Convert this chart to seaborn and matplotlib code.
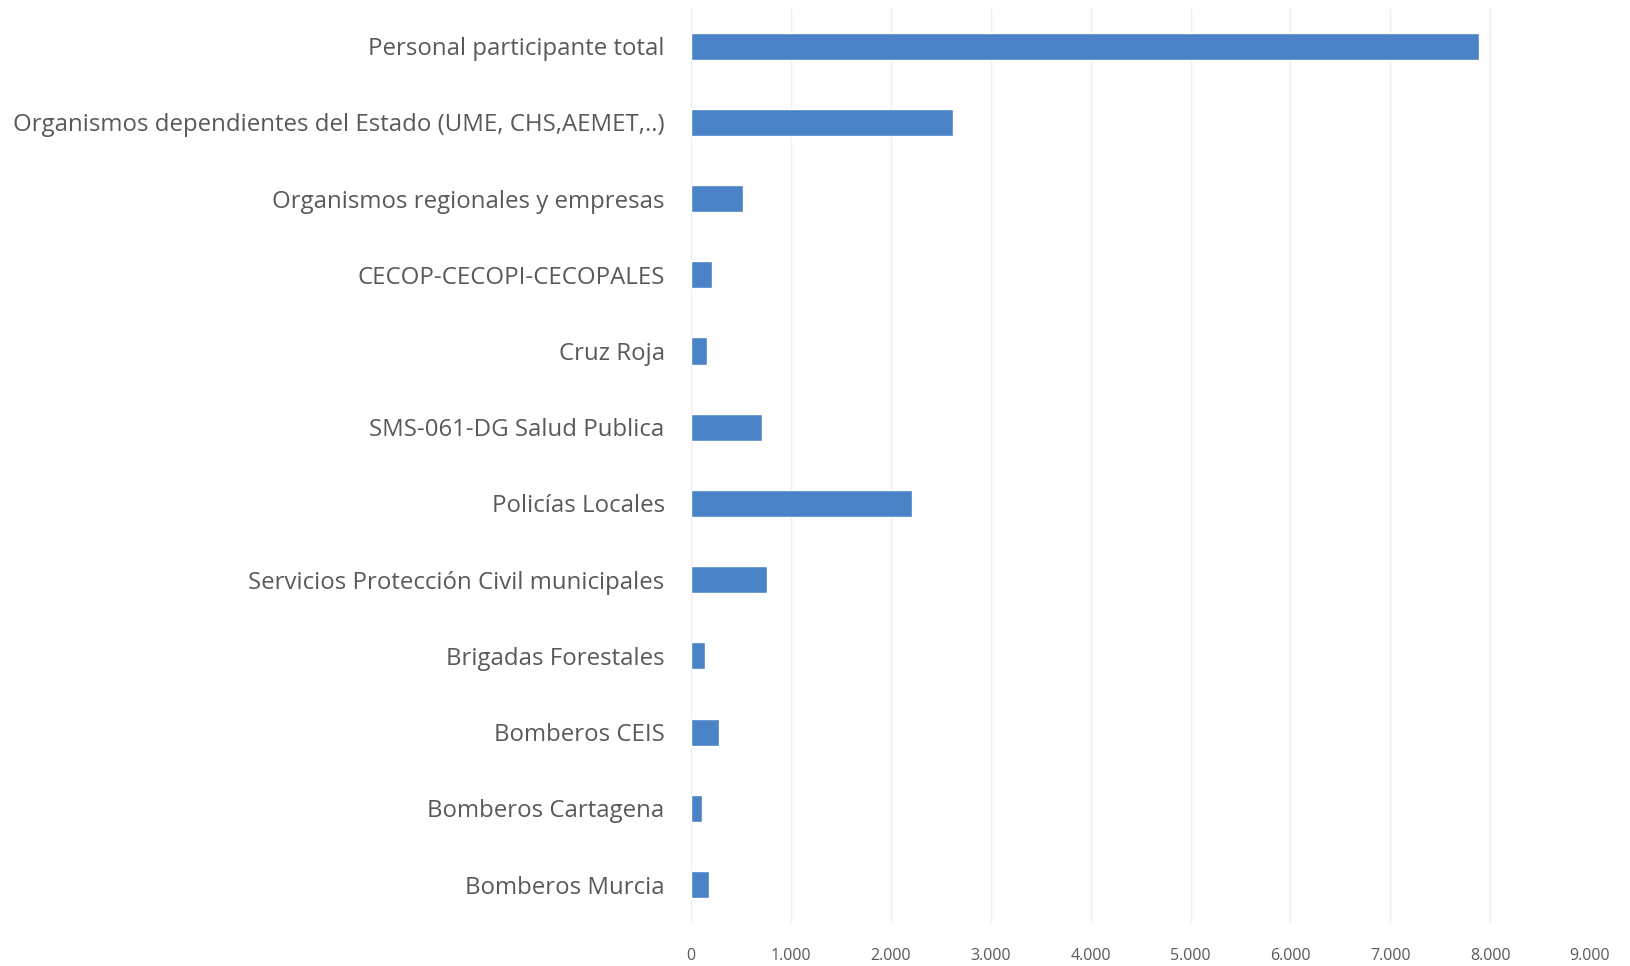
import matplotlib
matplotlib.use("Agg")
import matplotlib.pyplot as plt
import seaborn as sns
import pandas as pd
from matplotlib.ticker import FuncFormatter

categories = [
    "Personal participante total",
    "Organismos dependientes del Estado (UME, CHS,AEMET,..)",
    "Organismos regionales y empresas",
    "CECOP-CECOPI-CECOPALES",
    "Cruz Roja",
    "SMS-061-DG Salud Publica",
    "Policías Locales",
    "Servicios Protección Civil municipales",
    "Brigadas Forestales",
    "Bomberos CEIS",
    "Bomberos Cartagena",
    "Bomberos Murcia",
]
values = [7890, 2620, 523, 213, 160, 710, 2207, 763, 140, 280, 110, 177]
x_ticks = [0, 1000, 2000, 3000, 4000, 5000, 6000, 7000, 8000, 9000]

df = pd.DataFrame({"categoria": categories, "valor": values})

sns.set_theme(style="white")
plt.rcParams["font.family"] = ["Open Sans", "DejaVu Sans"]

fig = plt.figure(figsize=(16.31, 9.66), dpi=100)
ax = fig.add_axes([0.4237, 0.0449, 0.5512, 0.9468])

sns.barplot(data=df, x="valor", y="categoria", orient="h", color="#4a83c6",
            saturation=1, width=0.355, ax=ax)

ax.set_xlim(0, 9000)
ax.set_ylim(11.5, -0.5)
ax.set_xticks(x_ticks)
ax.xaxis.set_major_formatter(FuncFormatter(lambda v, p: f"{int(v):,}".replace(",", ".")))
ax.grid(axis="x", color="#efefef", linewidth=1)
ax.set_axisbelow(True)
for s in ax.spines.values():
    s.set_visible(False)
ax.set_xlabel("")
ax.set_ylabel("")
ax.tick_params(axis="y", length=0, pad=19, labelsize=17.3, labelcolor="#595959")
ax.tick_params(axis="x", length=0, pad=18, labelsize=11.5, labelcolor="#595959")

fig.savefig("out.png", dpi=100, facecolor="white")
